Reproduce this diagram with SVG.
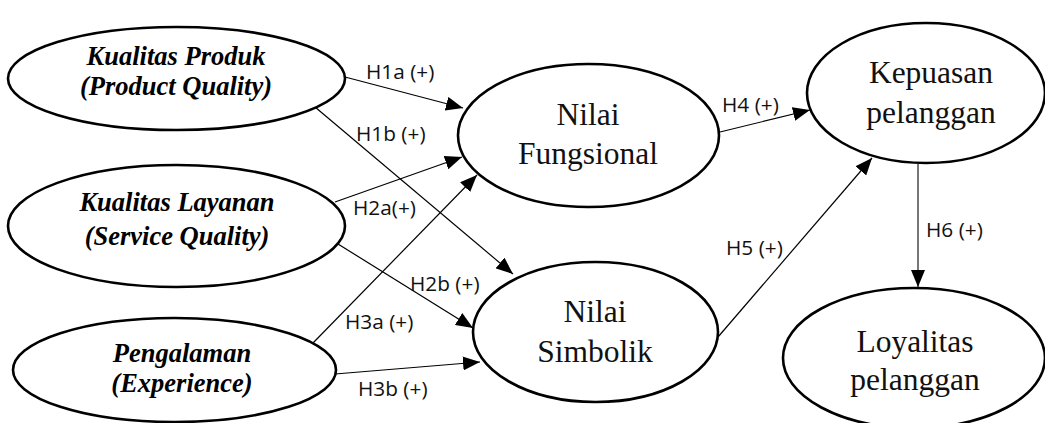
<svg xmlns="http://www.w3.org/2000/svg" width="1045" height="423" viewBox="0 0 1045 423">
  <style>
    .node ellipse { fill: #ffffff; stroke: #000000; stroke-width: 2.6; }
    .ital { font-size: 26.5px; font-weight: bold; font-style: italic; fill: #000; text-anchor: middle; }
    .reg { font-size: 31.5px; fill: #111; text-anchor: middle; }
    .edge { stroke: #000; stroke-width: 1.2; fill: none; marker-end: url(#arrow); }
    .edge.grey { stroke: #555; stroke-width: 1.6; }
    .lbl { font-size: 20.8px; fill: #111; }
  </style>
  <defs>
    <marker id="arrow" markerUnits="userSpaceOnUse" markerWidth="17" markerHeight="14" refX="17" refY="7" orient="auto">
      <path d="M0,0 L17,7 L0,14 Z" fill="#000"/>
    </marker>
  </defs>

  <rect width="1045" height="423" fill="#ffffff"/>

  <!-- connectors -->
  <g id="connectors">
    <line class="edge" x1="345" y1="77" x2="463" y2="108"/>
    <line class="edge" x1="315" y1="107" x2="513" y2="274"/>
    <line class="edge" x1="335" y1="202" x2="462" y2="157"/>
    <line class="edge" x1="338" y1="244" x2="473" y2="328"/>
    <line class="edge" x1="313" y1="343" x2="477" y2="175"/>
    <line class="edge" x1="335" y1="374" x2="480" y2="362"/>
    <line class="edge" x1="720" y1="132" x2="810" y2="110"/>
    <line class="edge" x1="718" y1="337" x2="872" y2="158"/>
    <line class="edge grey" x1="918" y1="164" x2="918" y2="287"/>

    <g font-family="Open Sans, Noto Sans, sans-serif">
      <text class="lbl" x="366" y="79">H1a (+)</text>
      <text class="lbl" x="356" y="141">H1b (+)</text>
      <text class="lbl" x="353" y="215">H2a(+)</text>
      <text class="lbl" x="410" y="291">H2b (+)</text>
      <text class="lbl" x="345" y="329">H3a (+)</text>
      <text class="lbl" x="358" y="396">H3b (+)</text>
      <text class="lbl" x="722" y="112">H4 (+)</text>
      <text class="lbl" x="726" y="255">H5 (+)</text>
      <text class="lbl" x="926" y="237">H6 (+)</text>
    </g>
  </g>

  <g font-family="Liberation Serif, Times New Roman, serif">
    <!-- exogenous constructs -->
    <g id="kualitas-produk" class="node">
      <ellipse cx="176.5" cy="78.5" rx="168.5" ry="51.5"/>
      <text class="ital" x="176" y="65">Kualitas Produk</text>
      <text class="ital" x="176" y="95">(Product Quality)</text>
    </g>
    <g id="kualitas-layanan" class="node">
      <ellipse cx="176.5" cy="226" rx="168.5" ry="61"/>
      <text class="ital" x="177" y="211">Kualitas Layanan</text>
      <text class="ital" x="177" y="245">(Service Quality)</text>
    </g>
    <g id="pengalaman" class="node">
      <ellipse cx="174.5" cy="370" rx="161.5" ry="52"/>
      <text class="ital" x="182" y="362">Pengalaman</text>
      <text class="ital" x="182" y="392">(Experience)</text>
    </g>

    <!-- mediating constructs -->
    <g id="nilai-fungsional" class="node">
      <ellipse cx="588.5" cy="135.5" rx="130.5" ry="71.5"/>
      <text class="reg" x="588" y="125">Nilai</text>
      <text class="reg" x="588" y="164">Fungsional</text>
    </g>
    <g id="nilai-simbolik" class="node">
      <ellipse cx="595.5" cy="332" rx="122.5" ry="70"/>
      <text class="reg" x="595" y="322">Nilai</text>
      <text class="reg" x="595" y="362">Simbolik</text>
    </g>

    <!-- outcome constructs -->
    <g id="kepuasan" class="node">
      <ellipse cx="926" cy="93" rx="119" ry="70"/>
      <text class="reg" x="931" y="83">Kepuasan</text>
      <text class="reg" x="931" y="123">pelanggan</text>
    </g>
    <g id="loyalitas" class="node">
      <ellipse cx="914" cy="358" rx="131" ry="70"/>
      <text class="reg" x="915" y="352">Loyalitas</text>
      <text class="reg" x="915" y="390">pelanggan</text>
    </g>
  </g>
</svg>
